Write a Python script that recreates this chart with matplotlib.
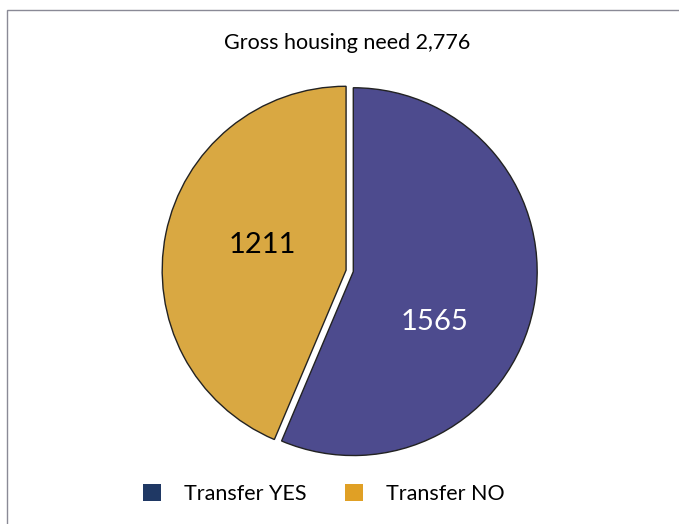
import matplotlib
matplotlib.use('Agg')
import matplotlib.pyplot as plt
from matplotlib.patches import Patch, Rectangle

plt.rcParams['font.family'] = ['Lato', 'DejaVu Sans']

categories = ['Transfer YES', 'Transfer NO']
values = [1565, 1211]
slice_colors = ['#4D4B8E', '#D9A842']
legend_colors = ['#1F3864', '#E0A025']
label_colors = ['white', 'black']
title = 'Gross housing need 2,776'

fig = plt.figure(figsize=(6.79, 5.24), dpi=100)
fig.patches.append(Rectangle((7 / 679, -0.1), 1.2, 1.1 - 10 / 524, transform=fig.transFigure,
                             fill=False, edgecolor='#8a8a96', linewidth=1))

ax = fig.add_axes([0.190, 0.0615, 0.650, 0.843])
wedges, _ = ax.pie(values, colors=slice_colors, startangle=90, counterclock=False,
                   explode=[0.02, 0.02], radius=1,
                   wedgeprops=dict(edgecolor='#222222', linewidth=1.0))
ax.set_xlim(-1.2, 1.2)
ax.set_ylim(-1.2, 1.2)
ax.set_aspect('equal')

# data labels, roughly where Excel put them
label_pos = [(0.46, -0.28), (-0.475, 0.14)]
for v, (x, y), c in zip(values, label_pos, label_colors):
    ax.text(x, y, str(v), color=c, fontsize=21, ha='center', va='center')

fig.text(0.511, 0.917, title, fontsize=15.5, ha='center', va='center')

handles = [Patch(facecolor=c, edgecolor='none') for c in legend_colors]
fig.legend(handles, categories, loc='center', bbox_to_anchor=(0.477, 0.057), ncol=2,
           frameon=False, fontsize=15.5, handlelength=0.85, handleheight=0.85,
           handletextpad=1.05, columnspacing=1.8)

fig.savefig('out.png', dpi=100)
